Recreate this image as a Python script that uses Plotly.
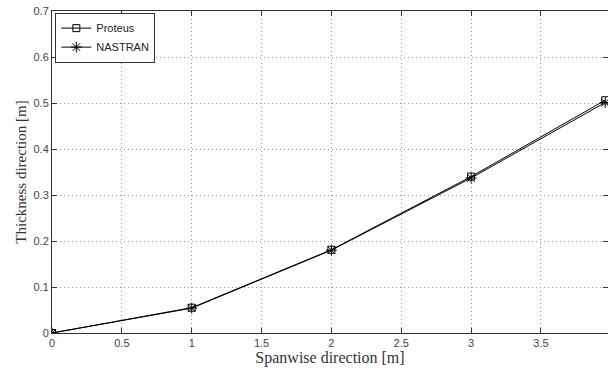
import plotly.graph_objects as go

span = [0, 1, 2, 3, 3.96]
proteus = [0.0, 0.055, 0.181, 0.340, 0.506]
nastran = [0.0, 0.054, 0.180, 0.337, 0.501]

x_ticks = [0, 0.5, 1, 1.5, 2, 2.5, 3, 3.5]
y_ticks = [0, 0.1, 0.2, 0.3, 0.4, 0.5, 0.6, 0.7]

fig = go.Figure()
fig.add_trace(go.Scatter(
    x=span, y=proteus, name="Proteus", mode="lines+markers",
    line=dict(color="black", width=1),
    marker=dict(symbol="square-open", size=7, color="black", line=dict(width=1)),
))
fig.add_trace(go.Scatter(
    x=span, y=nastran, name="NASTRAN", mode="lines+markers",
    line=dict(color="black", width=1),
    marker=dict(symbol="asterisk-open", size=9, color="black", line=dict(width=1, color="black")),
))

axis_common = dict(
    showline=True, linecolor="#333", linewidth=1, mirror="ticks",
    ticks="inside", ticklen=5, tickcolor="#333",
    showgrid=True, gridcolor="#999", griddash="1px,3px", gridwidth=1,
    zeroline=False, automargin=True,
    tickfont=dict(family="Liberation Sans, Arial", size=11, color="#444"),
)

fig.update_layout(
    width=608, height=373,
    margin=dict(l=52, r=0, t=11, b=40),
    paper_bgcolor="white", plot_bgcolor="white",
    showlegend=True,
    legend=dict(
        x=0.006, y=0.995, xanchor="left", yanchor="top",
        bordercolor="#333", borderwidth=1, bgcolor="white",
        font=dict(family="Liberation Sans, Arial", size=11, color="#222"),
        tracegroupgap=0,
    ),
    xaxis=dict(
        range=[0, 3.98], tickvals=x_ticks, ticktext=[str(v) for v in x_ticks],
        title=dict(text="Spanwise direction [m]", standoff=2,
                   font=dict(family="Liberation Serif, Times New Roman", size=16, color="#333")),
        **axis_common,
    ),
    yaxis=dict(
        range=[0, 0.7], tickvals=y_ticks, ticktext=[str(v) for v in y_ticks],
        title=dict(text="Thickness direction [m]", standoff=3,
                   font=dict(family="Liberation Serif, Times New Roman", size=15, color="#333")),
        **axis_common,
    ),
)

fig.write_html("out.html", config={"displayModeBar": False},
               post_script="document.body.style.margin='0';")
